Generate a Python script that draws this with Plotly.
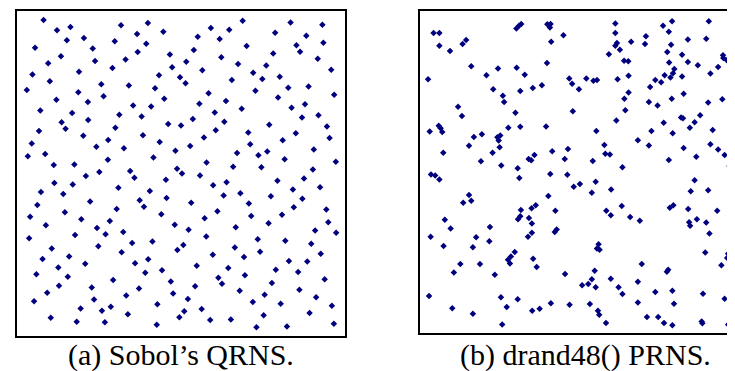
import plotly.graph_objects as go

# ---- (a) Sobol's QRNS: 256 points (unit square) ----
sobol_x = [
    0.081, 0.122, 0.163, 0.317, 0.399, 0.366, 0.446, 0.152, 0.204, 0.298, 0.394, 0.055, 0.231, 0.368, 0.466,
    0.134, 0.095, 0.238, 0.331, 0.291, 0.473, 0.047, 0.189, 0.433, 0.100, 0.030, 0.257, 0.341, 0.421, 0.187,
    0.264, 0.120, 0.216, 0.449, 0.354, 0.409, 0.071, 0.168, 0.312, 0.380, 0.136, 0.217, 0.461, 0.148, 0.300,
    0.067, 0.202, 0.384, 0.045, 0.278, 0.242, 0.435, 0.326, 0.483, 0.033, 0.086, 0.416,
    0.688, 0.591, 0.647, 0.834, 0.931, 0.551, 0.618, 0.787, 0.882, 0.539, 0.700, 0.852, 0.934, 0.863, 0.623,
    0.781, 0.516, 0.565, 0.674, 0.760, 0.917, 0.958, 0.497, 0.514, 0.655, 0.720, 0.748, 0.801, 0.827, 0.889,
    0.584, 0.727, 0.796, 0.967, 0.556, 0.637, 0.685, 0.837, 0.878, 0.603, 0.536, 0.632, 0.869, 0.919, 0.500,
    0.606, 0.769, 0.945, 0.570, 0.705, 0.850, 0.953, 0.528, 0.711, 0.810, 0.671, 0.736, 0.763, 0.905,
    0.112, 0.175, 0.277, 0.345, 0.358, 0.488, 0.210, 0.251, 0.454, 0.114, 0.170, 0.073, 0.141, 0.309, 0.405,
    0.456, 0.062, 0.223, 0.374, 0.387, 0.304, 0.146, 0.440, 0.040, 0.196, 0.283, 0.088, 0.481, 0.244, 0.270,
    0.324, 0.177, 0.037, 0.351, 0.413, 0.248, 0.106, 0.319, 0.489, 0.078, 0.159, 0.208, 0.360, 0.400, 0.126,
    0.059, 0.155, 0.391, 0.442, 0.293, 0.469, 0.128, 0.228, 0.372, 0.092,
    0.816, 0.972, 0.578, 0.503, 0.659, 0.745, 0.902, 0.558, 0.875, 0.794, 0.639, 0.598, 0.924, 0.841, 0.630,
    0.681, 0.774, 0.870, 0.531, 0.707, 0.844, 0.943, 0.611, 0.808, 0.714, 0.572, 0.767, 0.949, 0.523, 0.667,
    0.909, 0.973, 0.577, 0.734, 0.818, 0.897, 0.507, 0.664, 0.741, 0.926, 0.597, 0.692, 0.829, 0.885, 0.548,
    0.644, 0.789, 0.857, 0.614, 0.695, 0.938, 0.625, 0.777, 0.543, 0.679, 0.861,
    0.052, 0.103, 0.182, 0.194, 0.235, 0.259, 0.268, 0.286, 0.333, 0.338, 0.428, 0.426, 0.476,
    0.521, 0.510, 0.495, 0.563, 0.589, 0.652, 0.719, 0.755, 0.752, 0.730, 0.804, 0.823, 0.912, 0.892, 0.960,
    0.966,
]
sobol_y = [
    0.972, 0.941, 0.951, 0.956, 0.963, 0.929, 0.936, 0.910, 0.917, 0.907, 0.899, 0.887, 0.885, 0.874, 0.866,
    0.861, 0.839, 0.846, 0.851, 0.825, 0.827, 0.805, 0.813, 0.802, 0.784, 0.757, 0.775, 0.771, 0.762, 0.750,
    0.738, 0.727, 0.720, 0.730, 0.709, 0.706, 0.694, 0.686, 0.681, 0.675, 0.658, 0.665, 0.652, 0.638, 0.641,
    0.631, 0.616, 0.618, 0.592, 0.603, 0.582, 0.597, 0.578, 0.570, 0.553, 0.560, 0.549,
    0.970, 0.948, 0.942, 0.965, 0.958, 0.921, 0.914, 0.933, 0.924, 0.880, 0.892, 0.895, 0.902, 0.875, 0.858,
    0.869, 0.844, 0.818, 0.837, 0.832, 0.853, 0.819, 0.796, 0.778, 0.788, 0.810, 0.791, 0.798, 0.764, 0.768,
    0.747, 0.755, 0.734, 0.742, 0.715, 0.723, 0.699, 0.702, 0.713, 0.688, 0.668, 0.659, 0.672, 0.679, 0.648,
    0.633, 0.650, 0.645, 0.611, 0.626, 0.624, 0.609, 0.585, 0.590, 0.602, 0.563, 0.556, 0.568, 0.574,
    0.526, 0.528, 0.542, 0.508, 0.487, 0.515, 0.492, 0.505, 0.481, 0.471, 0.466, 0.443, 0.437, 0.456, 0.446,
    0.425, 0.403, 0.414, 0.418, 0.398, 0.391, 0.381, 0.375, 0.367, 0.359, 0.354, 0.341, 0.342, 0.332, 0.313,
    0.320, 0.311, 0.301, 0.286, 0.291, 0.276, 0.269, 0.258, 0.265, 0.237, 0.245, 0.222, 0.224, 0.236, 0.211,
    0.190, 0.182, 0.195, 0.202, 0.172, 0.168, 0.155, 0.149, 0.146, 0.133,
    0.544, 0.536, 0.534, 0.500, 0.521, 0.519, 0.512, 0.494, 0.485, 0.478, 0.473, 0.464, 0.458, 0.451, 0.432,
    0.439, 0.430, 0.422, 0.410, 0.408, 0.396, 0.389, 0.384, 0.373, 0.369, 0.362, 0.347, 0.350, 0.327, 0.335,
    0.325, 0.318, 0.306, 0.298, 0.293, 0.284, 0.280, 0.272, 0.259, 0.253, 0.250, 0.243, 0.231, 0.229, 0.216,
    0.209, 0.204, 0.197, 0.179, 0.187, 0.175, 0.161, 0.163, 0.153, 0.139, 0.142,
    0.107, 0.056, 0.044, 0.085, 0.112, 0.078, 0.042, 0.090, 0.125, 0.067, 0.098, 0.035, 0.131,
    0.114, 0.076, 0.058, 0.083, 0.049, 0.051, 0.105, 0.127, 0.064, 0.027, 0.099, 0.029, 0.119, 0.071, 0.093,
    0.038,
]

# ---- (b) drand48() PRNS: points (unit square) ----
drand_x = [
    0.300, 0.308, 0.315, 0.396, 0.406, 0.404, 0.043, 0.061, 0.061, 0.094, 0.133, 0.144, 0.446, 0.408, 0.160,
    0.243, 0.301, 0.207, 0.326, 0.395, 0.026, 0.464, 0.473, 0.228, 0.312, 0.351, 0.379, 0.258, 0.262, 0.119,
    0.131, 0.297, 0.475, 0.059, 0.065, 0.070, 0.031, 0.275, 0.312, 0.392, 0.168, 0.193, 0.241, 0.250, 0.245,
    0.153, 0.248, 0.073, 0.226, 0.411, 0.460, 0.338, 0.346, 0.356, 0.450,
    0.494, 0.607, 0.607, 0.607, 0.612, 0.621, 0.587, 0.634, 0.647, 0.656, 0.702, 0.699, 0.755, 0.783, 0.773,
    0.780, 0.768, 0.832, 0.889, 0.897, 0.814, 0.774, 0.832, 0.863, 0.941, 0.942, 0.953, 0.926, 0.902, 0.790,
    0.786, 0.778, 0.760, 0.814, 0.517, 0.539, 0.550, 0.614, 0.648, 0.731, 0.749, 0.715, 0.648, 0.635, 0.638,
    0.711, 0.738, 0.782, 0.819, 0.895, 0.939, 0.610, 0.757, 0.811, 0.817, 0.870, 0.853, 0.838, 0.785, 0.719,
    0.548, 0.573, 0.576, 0.590, 0.677, 0.711, 0.819, 0.902, 0.926, 0.946, 0.909, 0.977, 0.984, 0.997, 0.858,
    0.190, 0.253, 0.304, 0.309, 0.035, 0.048, 0.061, 0.405, 0.458, 0.478, 0.153, 0.160, 0.135, 0.399, 0.314,
    0.347, 0.360, 0.421, 0.305, 0.312, 0.339, 0.348, 0.078, 0.096, 0.218, 0.034, 0.175, 0.216, 0.074, 0.165,
    0.336, 0.348, 0.419, 0.425, 0.295, 0.283, 0.274, 0.280, 0.352, 0.363, 0.126, 0.187, 0.106, 0.233, 0.451,
    0.537, 0.629, 0.773, 0.961, 0.998, 0.497, 0.546, 0.534, 0.594, 0.853, 0.841, 0.895, 0.579, 0.593, 0.627,
    0.653, 0.683, 0.776, 0.787, 0.833, 0.923, 0.836, 0.839, 0.860, 0.889, 0.975, 0.899, 0.555, 0.550, 0.558,
    0.886, 0.957, 0.954, 0.992, 0.936, 0.990, 0.998, 0.689, 0.767, 0.771, 0.543, 0.593, 0.534, 0.523, 0.504,
    0.546, 0.617, 0.677, 0.731, 0.784,
    0.029, 0.101, 0.165, 0.252, 0.270, 0.256, 0.304, 0.349, 0.372, 0.407, 0.465, 0.528, 0.553, 0.557, 0.578,
    0.629, 0.677, 0.705, 0.740, 0.758, 0.784, 0.789, 0.879, 0.875, 0.877, 0.946, 0.965, 0.957, 1.000,
]
drand_y = [
    0.945, 0.953, 0.959, 0.958, 0.959, 0.948, 0.931, 0.931, 0.891, 0.875, 0.897, 0.909, 0.924, 0.904, 0.828,
    0.821, 0.823, 0.800, 0.801, 0.838, 0.787, 0.790, 0.773, 0.756, 0.751, 0.760, 0.769, 0.736, 0.717, 0.702,
    0.673, 0.683, 0.688, 0.643, 0.635, 0.624, 0.625, 0.637, 0.640, 0.641, 0.608, 0.617, 0.607, 0.613, 0.597,
    0.581, 0.576, 0.559, 0.559, 0.564, 0.571, 0.540, 0.536, 0.552, 0.540,
    0.756, 0.960, 0.931, 0.891, 0.900, 0.879, 0.865, 0.845, 0.843, 0.904, 0.921, 0.897, 0.953, 0.967, 0.935,
    0.894, 0.872, 0.911, 0.913, 0.967, 0.863, 0.839, 0.841, 0.831, 0.862, 0.853, 0.846, 0.825, 0.805, 0.819,
    0.806, 0.793, 0.800, 0.796, 0.790, 0.783, 0.785, 0.787, 0.798, 0.785, 0.778, 0.763, 0.746, 0.727, 0.691,
    0.717, 0.706, 0.727, 0.742, 0.715, 0.725, 0.659, 0.652, 0.669, 0.666, 0.676, 0.654, 0.637, 0.620, 0.627,
    0.627, 0.583, 0.556, 0.554, 0.598, 0.582, 0.574, 0.586, 0.569, 0.552, 0.630, 0.664, 0.664, 0.690, 0.547,
    0.533, 0.520, 0.511, 0.481, 0.492, 0.489, 0.476, 0.493, 0.491, 0.454, 0.428, 0.410, 0.404, 0.425, 0.382,
    0.387, 0.396, 0.379, 0.353, 0.362, 0.357, 0.340, 0.351, 0.324, 0.329, 0.299, 0.297, 0.285, 0.270, 0.266,
    0.299, 0.311, 0.313, 0.321, 0.251, 0.237, 0.227, 0.216, 0.230, 0.205, 0.214, 0.214, 0.188, 0.181, 0.183,
    0.534, 0.514, 0.537, 0.518, 0.506, 0.462, 0.469, 0.435, 0.445, 0.474, 0.440, 0.443, 0.379, 0.365, 0.394,
    0.360, 0.348, 0.389, 0.396, 0.385, 0.379, 0.344, 0.333, 0.353, 0.343, 0.343, 0.309, 0.275, 0.262, 0.258,
    0.250, 0.246, 0.233, 0.246, 0.210, 0.208, 0.205, 0.214, 0.190, 0.196, 0.193, 0.168, 0.167, 0.152, 0.148,
    0.142, 0.142, 0.159, 0.127, 0.131,
    0.115, 0.077, 0.060, 0.111, 0.081, 0.026, 0.105, 0.069, 0.075, 0.092, 0.088, 0.090, 0.069, 0.057, 0.031,
    0.121, 0.095, 0.050, 0.050, 0.031, 0.024, 0.091, 0.122, 0.036, 0.030, 0.106, 0.075, 0.026, 0.071,
]

captions = ["(a) Sobol\u2019s QRNS.", "(b) drand48() PRNS."]

W, H = 735, 371
DOT = "#00007f"
marker = dict(symbol="diamond", size=5, color=DOT, line=dict(width=0))

fig = go.Figure()
fig.add_trace(go.Scatter(x=sobol_x, y=sobol_y, mode="markers", marker=marker,
                         xaxis="x", yaxis="y", hoverinfo="skip"))
fig.add_trace(go.Scatter(x=drand_x, y=drand_y, mode="markers", marker=marker,
                         xaxis="x2", yaxis="y2", hoverinfo="skip"))

frame = dict(showline=True, linecolor="black", linewidth=1.5, showgrid=False,
             zeroline=False, showticklabels=False, ticks="", fixedrange=True)

# panel frames in pixels of the 735x371 picture
a_left, a_right, a_top, a_bottom = 9, 337, 3, 328
b_left, b_top, b_bottom = 411.7, 2.7, 325
b_side = b_bottom - b_top
cap_font = dict(family="Liberation Serif, Times New Roman, serif", size=30, color="black")

fig.update_layout(
    width=W, height=H,
    margin=dict(l=0, r=0, t=0, b=0),
    paper_bgcolor="white", plot_bgcolor="white",
    showlegend=False,
    xaxis=dict(domain=[a_left / W, a_right / W], range=[0, 1], mirror=True, **frame),
    yaxis=dict(domain=[(H - a_bottom) / H, (H - a_top) / H], range=[0, 1], mirror=True, **frame),
    xaxis2=dict(domain=[b_left / W, 1.0], range=[0, (W - b_left) / b_side], mirror=True,
                anchor="y2", **frame),
    yaxis2=dict(domain=[(H - b_bottom) / H, (H - b_top) / H], range=[0, 1], mirror=False,
                anchor="x2", **frame),
    annotations=[
        dict(text=captions[0], x=173 / W, y=(H - 347) / H, xref="paper", yref="paper",
             xanchor="center", yanchor="middle", showarrow=False, borderpad=0, font=cap_font),
        dict(text=captions[1], x=577.5 / W, y=(H - 347) / H, xref="paper", yref="paper",
             xanchor="center", yanchor="middle", showarrow=False, borderpad=0, font=cap_font),
    ],
)

fig.write_html("out.html", config={"displayModeBar": False})
